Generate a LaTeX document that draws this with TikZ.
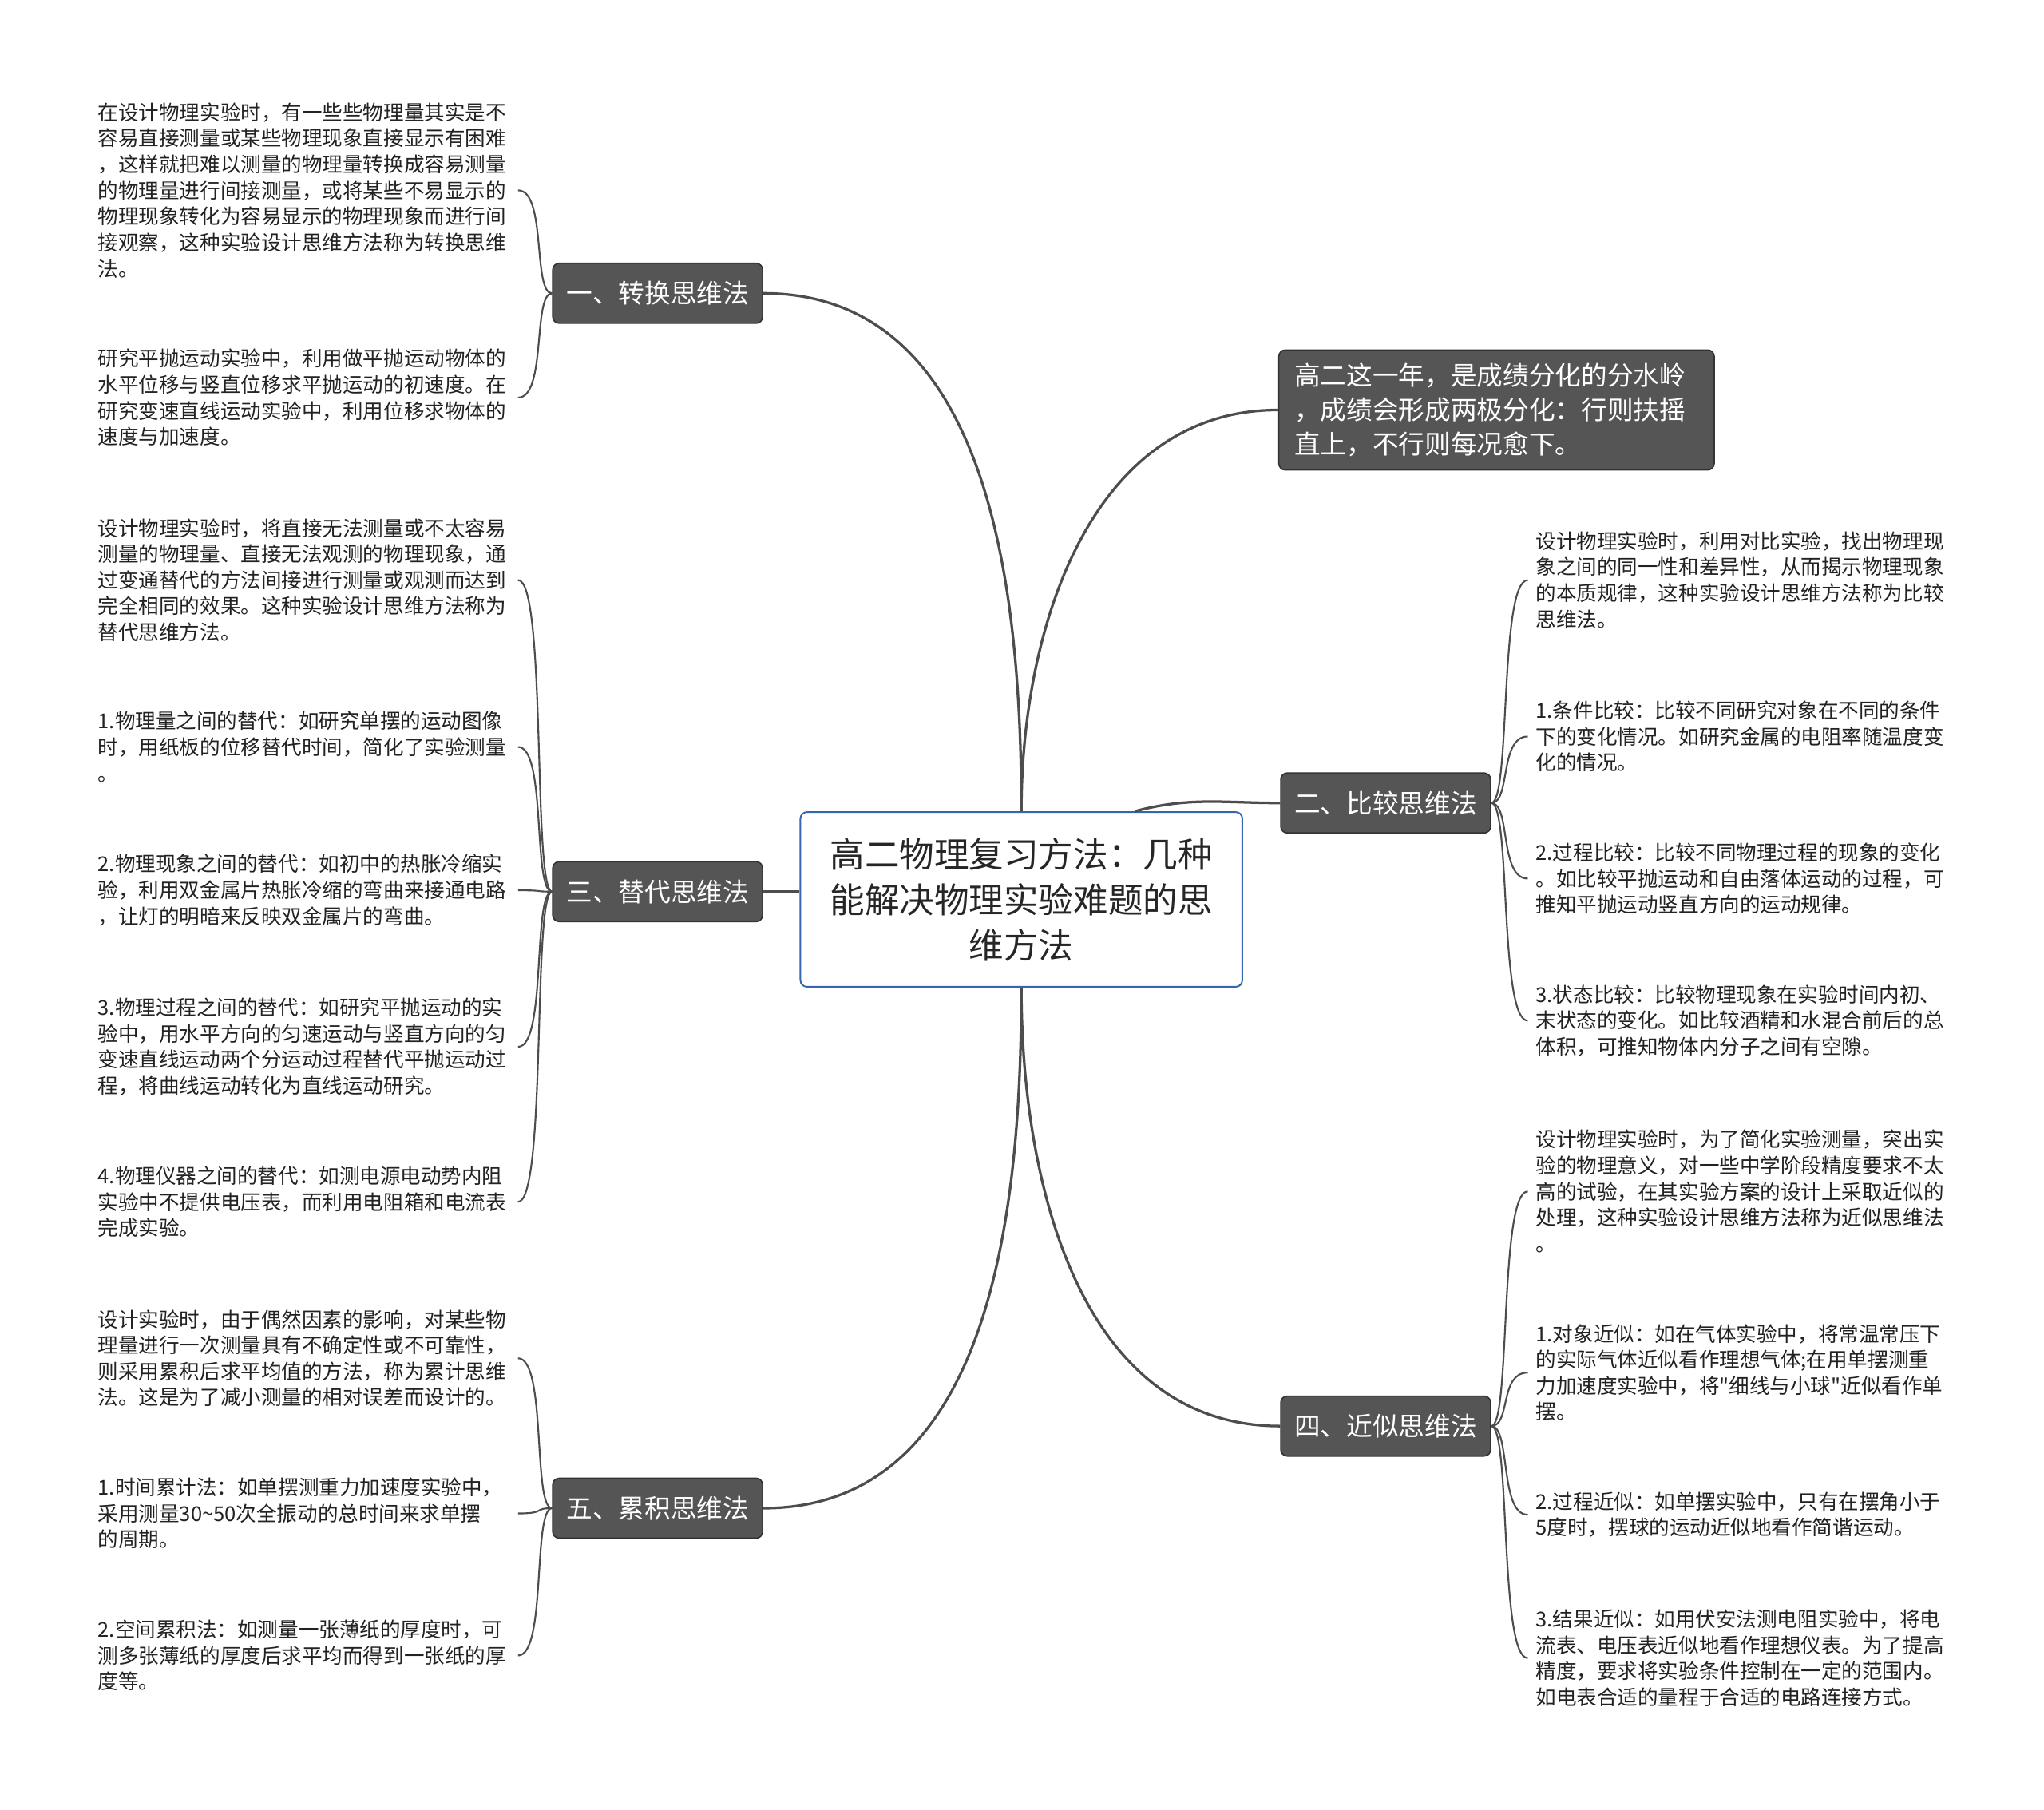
\documentclass[tikz,border=0pt]{standalone}
\usepackage{fontspec}
\setmainfont{Noto Sans CJK SC}
\usetikzlibrary{positioning}
\definecolor{branchgray}{HTML}{555555}
\definecolor{linegray}{HTML}{4D4D4D}
\definecolor{rootblue}{HTML}{3567B0}
\definecolor{leaftext}{HTML}{222222}

\begin{document}
\begin{tikzpicture}[x=1pt, y=-1pt,
  root/.style={draw=rootblue, line width=1.2pt, fill=white, rounded corners=5pt, align=center,
    minimum width=339pt, minimum height=134pt, text=black!85, font={\fontsize{26.7}{35}\selectfont}},
  branch/.style={draw=black!80, fill=branchgray, line width=1pt, rounded corners=5pt, inner sep=0pt,
    minimum width=161pt, minimum height=46pt, text=white, font={\fontsize{20}{26.5}\selectfont}},
  note/.style={branch, align=left, text width=310pt, inner xsep=12pt, inner ysep=10pt},
  leaf/.style={anchor=west, align=left, text width=316pt, inner xsep=6pt, inner ysep=2pt,
    text=leaftext, font={\fontsize{15.65}{20}\selectfont}},
  main/.style={draw=linegray, line width=2pt},
  twig/.style={draw=linegray, line width=1.3pt}]

  \fill[white] (0,0) rectangle (1568,1388);
  \useasboundingbox (0,0) rectangle (1568,1388);

  % centre and main branches
  \node[root] (root) at (783.5,690) {高二物理复习方法：几种\\能解决物理实验难题的思\\维方法};
  \node[branch] (b1) at (504.5,225) {一、转换思维法};
  \node[branch] (b3) at (504.5,684) {三、替代思维法};
  \node[branch] (b5) at (504.5,1157) {五、累积思维法};
  \node[note] (note) at (1148,314.5) {高二这一年，是成绩分化的分水岭\\，成绩会形成两极分化：行则扶摇\\直上，不行则每况愈下。};
  \node[branch] (b2) at (1063,616) {二、比较思维法};
  \node[branch] (b4) at (1063,1094) {四、近似思维法};

  % left leaves
  \node[leaf] (l1a) at (69,146) {在设计物理实验时，有一些些物理量其实是不\\容易直接测量或某些物理现象直接显示有困难\\，这样就把难以测量的物理量转换成容易测量\\的物理量进行间接测量，或将某些不易显示的\\物理现象转化为容易显示的物理现象而进行间\\接观察，这种实验设计思维方法称为转换思维\\法。};
  \node[leaf] (l1b) at (69,305) {研究平抛运动实验中，利用做平抛运动物体的\\水平位移与竖直位移求平抛运动的初速度。在\\研究变速直线运动实验中，利用位移求物体的\\速度与加速度。};
  \node[leaf] (l3a) at (69,445) {设计物理实验时，将直接无法测量或不太容易\\测量的物理量、直接无法观测的物理现象，通\\过变通替代的方法间接进行测量或观测而达到\\完全相同的效果。这种实验设计思维方法称为\\替代思维方法。};
  \node[leaf] (l3b) at (69,573) {1.物理量之间的替代：如研究单摆的运动图像\\时，用纸板的位移替代时间，简化了实验测量\\。};
  \node[leaf] (l3c) at (69,683) {2.物理现象之间的替代：如初中的热胀冷缩实\\验，利用双金属片热胀冷缩的弯曲来接通电路\\，让灯的明暗来反映双金属片的弯曲。};
  \node[leaf] (l3d) at (69,803) {3.物理过程之间的替代：如研究平抛运动的实\\验中，用水平方向的匀速运动与竖直方向的匀\\变速直线运动两个分运动过程替代平抛运动过\\程，将曲线运动转化为直线运动研究。};
  \node[leaf] (l3e) at (69,922) {4.物理仪器之间的替代：如测电源电动势内阻\\实验中不提供电压表，而利用电阻箱和电流表\\完成实验。};
  \node[leaf] (l5a) at (69,1042) {设计实验时，由于偶然因素的影响，对某些物\\理量进行一次测量具有不确定性或不可靠性，\\则采用累积后求平均值的方法，称为累计思维\\法。这是为了减小测量的相对误差而设计的。};
  \node[leaf] (l5b) at (69,1161) {1.时间累计法：如单摆测重力加速度实验中，\\采用测量30\textasciitilde 50次全振动的总时间来求单摆\\的周期。};
  \node[leaf] (l5c) at (69,1270) {2.空间累积法：如测量一张薄纸的厚度时，可\\测多张薄纸的厚度后求平均而得到一张纸的厚\\度等。};

  % right leaves
  \node[leaf] (r2a) at (1172,445) {设计物理实验时，利用对比实验，找出物理现\\象之间的同一性和差异性，从而揭示物理现象\\的本质规律，这种实验设计思维方法称为比较\\思维法。};
  \node[leaf] (r2b) at (1172,565) {1.条件比较：比较不同研究对象在不同的条件\\下的变化情况。如研究金属的电阻率随温度变\\化的情况。};
  \node[leaf] (r2c) at (1172,674) {2.过程比较：比较不同物理过程的现象的变化\\。如比较平抛运动和自由落体运动的过程，可\\推知平抛运动竖直方向的运动规律。};
  \node[leaf] (r2d) at (1172,783) {3.状态比较：比较物理现象在实验时间内初、\\末状态的变化。如比较酒精和水混合前后的总\\体积，可推知物体内分子之间有空隙。};
  \node[leaf] (r4a) at (1172,914) {设计物理实验时，为了简化实验测量，突出实\\验的物理意义，对一些中学阶段精度要求不太\\高的试验，在其实验方案的设计上采取近似的\\处理，这种实验设计思维方法称为近似思维法\\。};
  \node[leaf] (r4b) at (1172,1053) {1.对象近似：如在气体实验中，将常温常压下\\的实际气体近似看作理想气体;在用单摆测重\\力加速度实验中，将\textquotedbl 细线与小球\textquotedbl 近似看作单\\摆。};
  \node[leaf] (r4c) at (1172,1162) {2.过程近似：如单摆实验中，只有在摆角小于\\5度时，摆球的运动近似地看作简谐运动。};
  \node[leaf] (r4d) at (1172,1272) {3.结果近似：如用伏安法测电阻实验中，将电\\流表、电压表近似地看作理想仪表。为了提高\\精度，要求将实验条件控制在一定的范围内。\\如电表合适的量程于合适的电路连接方式。};

  % main connectors
  \draw[main] (root) to[out=90,in=0] (b1);
  \draw[main] (root) to[out=90,in=180] (note);
  \draw[main] ([xshift=87pt]root.north) to[out=15,in=180] (b2);
  \draw[main] (b3.east) -- (b3.east -| root.west);
  \draw[main] (root) to[out=270,in=0] (b5);
  \draw[main] (root) to[out=270,in=180] (b4);

  % leaf connectors
  \foreach \l in {l1a,l1b}
    \draw[twig] (b1.west) .. controls +(-15,0) and +(22,0) .. (\l.east);
  \foreach \l in {l3a,l3b,l3c,l3d,l3e}
    \draw[twig] (b3.west) .. controls +(-15,0) and +(22,0) .. (\l.east);
  \foreach \l in {l5a,l5b,l5c}
    \draw[twig] (b5.west) .. controls +(-15,0) and +(22,0) .. (\l.east);
  \foreach \r in {r2a,r2b,r2c,r2d}
    \draw[twig] (b2.east) .. controls +(15,0) and +(-22,0) .. (\r.west);
  \foreach \r in {r4a,r4b,r4c,r4d}
    \draw[twig] (b4.east) .. controls +(15,0) and +(-22,0) .. (\r.west);
\end{tikzpicture}
\end{document}
